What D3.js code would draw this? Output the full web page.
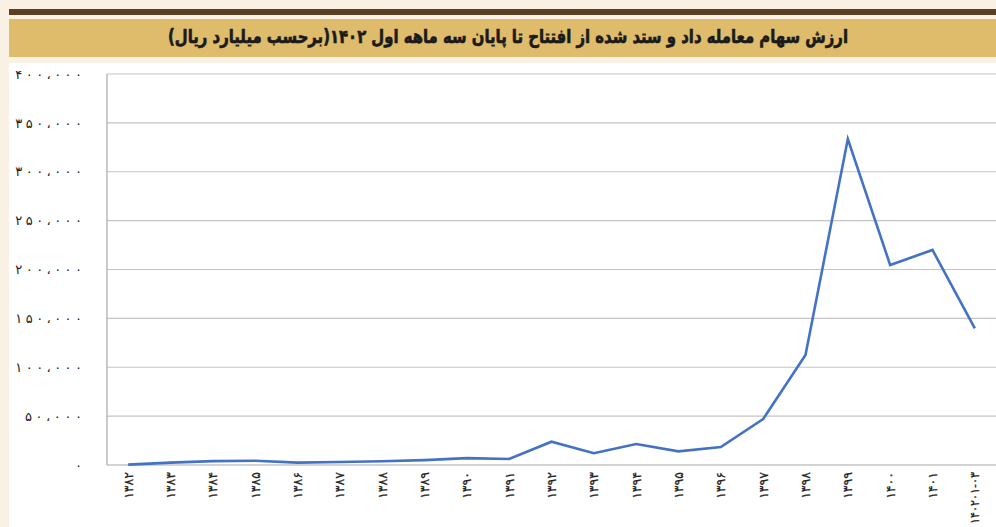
<!DOCTYPE html>
<html>
<head>
<meta charset="utf-8">
<script src="https://cdn.jsdelivr.net/npm/d3@7"></script>
<style>
  html, body { margin: 0; padding: 0; background: #f9f1e4; }
  svg { display: block; }
</style>
</head>
<body>
<svg id="chart" width="996" height="527"></svg>
<script>
const titleText = "ارزش سهام معامله داد و ستد شده از افتتاح تا پایان سه ماهه اول ۱۴۰۲(برحسب میلیارد ریال)";
const categories = ["۱۳۸۲","۱۳۸۳","۱۳۸۴","۱۳۸۵","۱۳۸۶","۱۳۸۷","۱۳۸۸","۱۳۸۹","۱۳۹۰","۱۳۹۱","۱۳۹۲","۱۳۹۳","۱۳۹۴","۱۳۹۵","۱۳۹۶","۱۳۹۷","۱۳۹۸","۱۳۹۹","۱۴۰۰","۱۴۰۱","۱۴۰۲۰۱-۰۳"];
const values = [400, 2400, 4000, 4400, 2400, 3100, 3800, 5000, 7000, 6100, 23800, 12000, 21500, 14000, 18400, 47000, 112500, 333500, 204600, 220000, 139800];
const yTicks = [0, 50000, 100000, 150000, 200000, 250000, 300000, 350000, 400000];

const W = 996, H = 527;
const svg = d3.select("#chart");

// page decorations
svg.append("rect").attr("x", 0).attr("y", 0).attr("width", W).attr("height", H).attr("fill", "#f9f1e4");
svg.append("rect").attr("x", 9).attr("y", 9).attr("width", W - 9).attr("height", 6).attr("fill", "#5b4023");
svg.append("rect").attr("x", 9).attr("y", 19).attr("width", W - 9).attr("height", 38).attr("fill", "#dfbb6c");
svg.append("rect").attr("x", 9).attr("y", 63).attr("width", W - 9).attr("height", H - 63).attr("fill", "#ffffff");

// title
const title = svg.append("text")
  .attr("x", 508).attr("y", 37)
  .attr("text-anchor", "middle")
  .attr("dominant-baseline", "middle")
  .attr("direction", "rtl")
  .attr("font-family", "DejaVu Sans Condensed, DejaVu Sans")
  .attr("font-weight", "bold")
  .attr("font-size", 19)
  .attr("fill", "#1a1a1a")
  .attr("stroke", "#1a1a1a").attr("stroke-width", 0.6)
  .text(titleText);
const tw = title.node().getComputedTextLength();
if (tw > 680) title.attr("textLength", 680).attr("lengthAdjust", "spacingAndGlyphs");

// scales
const plot = { left: 107, right: 996, top: 74, bottom: 465 };
const x = d3.scaleBand().domain(categories).range([plot.left, plot.right]).padding(0);
const y = d3.scaleLinear().domain([0, 400000]).range([plot.bottom, plot.top]);

const toFa = s => s.replace(/\d/g, d => "۰۱۲۳۴۵۶۷۸۹"[+d]).replace(/,/g, "،");
const fmt = v => toFa(d3.format(",")(v));

// gridlines
svg.append("g").selectAll("line").data(yTicks.filter(t => t > 0)).join("line")
  .attr("x1", plot.left).attr("x2", plot.right)
  .attr("y1", d => y(d)).attr("y2", d => y(d))
  .attr("stroke", "#c4c4c4").attr("stroke-width", 1.2);

// axes lines
svg.append("line").attr("x1", plot.left).attr("x2", plot.left)
  .attr("y1", plot.top).attr("y2", plot.bottom)
  .attr("stroke", "#a8a8a8").attr("stroke-width", 1.2);
svg.append("line").attr("x1", plot.left).attr("x2", plot.right)
  .attr("y1", plot.bottom).attr("y2", plot.bottom)
  .attr("stroke", "#a8a8a8").attr("stroke-width", 1.2);

// y labels
const yAxis = d3.axisLeft(y).tickValues(yTicks).tickFormat(fmt).tickSize(0).tickPadding(0);
const gy = svg.append("g").attr("transform", "translate(82,0)").call(yAxis);
gy.select(".domain").remove();
gy.selectAll("text")
  .attr("font-family", "DejaVu Sans")
  .attr("font-size", 13)
  .attr("fill", "#222")
  .each(function() {
    const n = this.textContent.length;
    if (n > 1) d3.select(this).attr("textLength", n * 9.6 - 0.5).attr("lengthAdjust", "spacing");
  });

// x labels
const xAxis = d3.axisBottom(x).tickSize(0).tickPadding(0);
const gx = svg.append("g").attr("transform", `translate(0,${plot.bottom})`).call(xAxis);
gx.select(".domain").remove();
gx.selectAll("text")
  .attr("font-family", "DejaVu Sans")
  .attr("font-size", 12.5)
  .attr("fill", "#222")
  .attr("stroke", "#222").attr("stroke-width", 0.25)
  .attr("text-anchor", "end")
  .attr("dy", "0.35em")
  .attr("transform", "translate(0,7) rotate(-90)")
  .attr("x", 0).attr("y", 0)
  .each(function() {
    const len = this.getComputedTextLength();
    if (len > 52) d3.select(this).attr("textLength", 52).attr("lengthAdjust", "spacingAndGlyphs");
  });

// line
const line = d3.line()
  .x((d, i) => x(categories[i]) + x.bandwidth() / 2)
  .y(d => y(d));
svg.append("path").datum(values)
  .attr("d", line)
  .attr("fill", "none")
  .attr("stroke", "#4472c4")
  .attr("stroke-width", 2.6)
  .attr("stroke-linejoin", "miter");
</script>
</body>
</html>
